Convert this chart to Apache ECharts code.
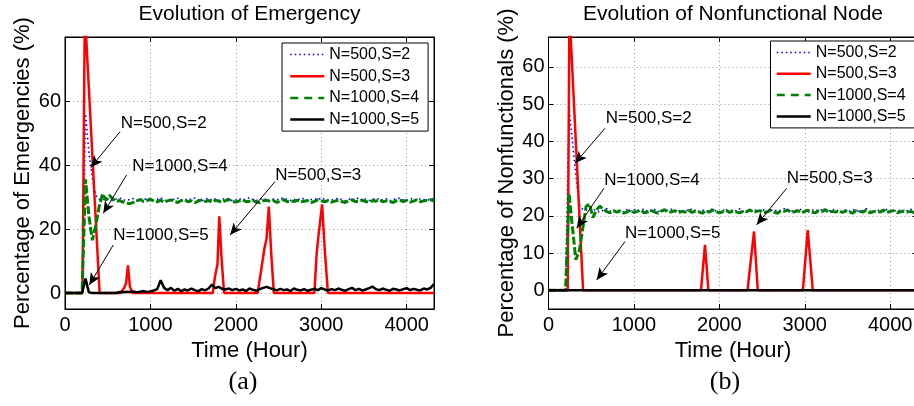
<!DOCTYPE html>
<html><head><meta charset="utf-8">
<script src="https://cdn.jsdelivr.net/npm/echarts@6/dist/echarts.min.js"></script>
<style>html,body{margin:0;padding:0;background:#fff}#c{width:914px;height:406px}</style>
</head><body><div id="c"></div>
<script>
// ---------- data ----------
const seriesNames = ['N=500,S=2', 'N=500,S=3', 'N=1000,S=4', 'N=1000,S=5'];
const xTicks = [0, 1000, 2000, 3000, 4000];
const yTicksA = [0, 20, 40, 60];
const yTicksB = [0, 10, 20, 30, 40, 50, 60];

const hours = [0,40,80,120,160,200,240,280,320,360,400,440,480,520,560,600,640,680,720,760,
  800,840,880,920,960,1000,1040,1080,1120,1160,1200,1240,1280,1320,1360,1400,1440,1480,1520,1560,
  1600,1640,1680,1720,1760,1800,1840,1880,1920,1960,2000,2040,2080,2120,2160,2200,2240,2280,2320,2360,
  2400,2440,2480,2520,2560,2600,2640,2680,2720,2760,2800,2840,2880,2920,2960,3000,3040,3080,3120,3160,
  3200,3240,3280,3320,3360,3400,3440,3480,3520,3560,3600,3640,3680,3720,3760,3800,3840,3880,3920,3960,
  4000,4040,4080,4120,4160,4200,4240,4280,4320];

// (a) Emergency
const emgS2 = [0,0,0,0,0,0,56,44,36,30.5,29.3,
  29.0,29.6,29.2,28.8,29.4,29.7,29.1,28.9,29.3,29.5,
  28.8,29.2,29.6,29.0,29.4,28.9,29.3,29.8,29.1,28.7,
  29.4,29.2,29.6,28.9,29.3,29.0,29.5,29.7,29.1,28.8,
  29.3,29.6,29.0,29.4,28.9,29.2,29.7,29.3,28.8,29.1,
  29.5,29.0,29.4,29.8,29.2,28.9,29.3,29.6,29.0,28.8,
  29.4,29.1,29.5,29.7,29.2,28.9,29.3,29.0,29.6,29.4,
  28.8,29.2,29.5,29.1,29.7,29.3,28.9,29.0,29.4,29.6,
  29.2,28.8,29.3,29.5,29.1,29.8,29.0,29.4,28.9,29.2,
  29.6,29.3,29.0,29.5,28.8,29.2,29.4,29.7,29.1,28.9,
  29.3,29.6,29.0,29.4,29.2,28.9,29.5,29.3];
const emgS3Hours = [0,205,232,405,650,690,715,737,760,790,1730,1755,1785,1806,1830,1862,
  2255,2290,2335,2360,2386,2415,2445,2920,2945,2968,3010,3040,3078,4320];
const emgS3 = [0,0,88,0,0,1.5,3,8.6,2,0,0,5,9,24,12,0,
  0,6,14,17,27,12,0,0,12,18,27.7,14,0,0];
const emgS4 = [0,0,0,0,0,0,35.5,24,16.5,21,27,31,29.0,30.5,29.4,28.6,
  28.9,28.4,28.1,27.9,28.3,28.8,29.2,28.6,28.9,29.3,
  28.7,28.5,29.0,28.4,28.8,29.1,28.6,28.3,28.9,29.2,
  28.5,28.8,28.2,28.7,29.1,28.6,28.9,28.4,29.0,28.7,
  28.3,28.9,29.2,28.6,28.4,28.8,29.1,28.5,28.7,29.0,
  28.4,28.2,28.8,29.0,28.6,28.9,28.3,28.7,29.2,28.5,
  28.8,28.6,29.0,28.4,28.7,28.9,28.3,28.6,29.1,28.8,
  28.5,28.9,28.4,28.7,29.0,28.6,28.3,28.8,29.1,28.5,
  28.7,29.0,28.6,28.4,28.9,28.7,29.2,28.5,28.8,28.6,
  28.3,28.8,29.0,28.6,28.9,28.4,28.7,29.1,28.5,28.8,
  28.9,29.2,28.7];
const emgS5 = [0,0,0,0,0,0,4.5,0.2,0,0,0,0,0,0,0,0,
  0.3,0.2,0.4,0.3,0.5,0.2,0.4,0.6,0.3,0.5,0.8,1.2,4.0,1.6,
  0.9,1.6,0.7,1.3,0.6,1.1,0.8,1.4,0.9,0.5,
  1.2,0.8,1.4,2.6,1.5,1.9,1.3,1.1,1.4,0.9,
  1.3,0.8,1.1,0.6,1.4,1.0,0.7,1.2,1.6,1.9,
  1.5,1.2,0.8,1.3,0.9,1.1,0.6,1.4,1.0,0.8,
  1.2,0.7,1.0,1.3,0.9,1.5,1.1,0.8,1.2,0.9,
  1.4,1.0,0.7,1.2,1.6,0.9,1.3,0.8,1.1,1.5,
  2.0,1.2,0.9,1.4,1.0,0.7,1.3,1.1,0.8,1.2,
  1.5,0.9,1.3,1.0,0.8,1.4,1.1,1.6,2.8];

// (b) Nonfunctional node
const nfS2 = [0,0,0,0,0,0,49,40,31,23,21.8,
  21.6,21.2,21.8,21.4,21.0,21.5,21.9,21.3,21.1,21.6,
  21.4,21.0,21.7,21.3,21.8,21.2,21.5,21.9,21.1,21.4,
  21.7,21.3,21.0,21.6,21.4,21.8,21.2,21.5,21.1,21.7,
  21.3,21.9,21.4,21.0,21.6,21.2,21.5,21.8,21.3,21.1,
  21.6,21.4,21.0,21.7,21.3,21.9,21.2,21.5,21.4,21.1,
  21.8,21.3,21.6,21.0,21.4,21.7,21.2,21.5,21.9,21.3,
  21.1,21.6,21.4,21.8,21.2,21.0,21.5,21.7,21.3,21.6,
  21.4,21.1,21.8,21.3,21.5,21.0,21.6,21.2,21.7,21.4,
  21.2,21.5,21.9,21.3,21.0,21.6,21.4,21.1,21.7,21.3,
  21.5,21.2,21.6,21.0,21.4,21.8,21.3,21.5];
const nfS3Hours = [0,225,245,405,1785,1832,1872,2330,2406,2450,2978,3035,3094,4320];
const nfS3 = [0,0,75,0,0,12.2,0,0,15.8,0,0,16.2,0,0];
const nfS4 = [0,0,0,0,0,0,26,17,8.2,10.5,16.5,22.5,23.2,19.5,21.5,22.6,
  21.8,21.2,20.8,21.4,21.0,21.3,20.7,21.1,21.5,20.9,
  21.2,21.6,20.8,21.0,21.4,21.1,20.7,21.3,21.7,20.9,
  21.1,21.4,20.8,21.2,21.0,21.5,20.9,21.3,21.1,20.7,
  21.4,21.0,21.6,21.2,20.8,21.1,21.5,20.9,21.3,21.0,
  20.8,21.3,21.1,21.6,20.9,21.2,21.4,20.8,21.1,21.5,
  21.0,20.7,21.3,21.2,21.6,20.9,21.1,21.4,20.8,21.2,
  21.5,21.0,20.8,21.3,21.1,21.7,20.9,21.2,21.0,21.4,
  20.9,21.3,21.1,20.7,21.4,21.2,21.0,21.5,20.8,21.1,
  21.3,21.0,21.6,20.9,21.2,21.4,20.8,21.1,21.3,21.0,
  21.2,20.9,21.3];
const nfS5Hours = [0, 4320];
const nfS5 = [0, 0];

// annotations (data coordinates): [text, t, v] and arrows [fromT, fromV, toT, toV]
const notesA = [['N=500,S=2', 652, 53.0], ['N=1000,S=4', 788, 39.5], ['N=500,S=3', 2462, 36.9], ['N=1000,S=5', 565, 18.1]];
const arrowsA = [[644, 50.4, 301, 39.2], [722, 36.9, 448, 24.9], [2458, 34.8, 1932, 18.1], [565, 15.0, 284, 2.5]];
const notesB = [['N=500,S=2', 670, 46.2], ['N=1000,S=4', 653, 29.6], ['N=500,S=3', 2789, 30.1], ['N=1000,S=5', 896, 15.3]];
const arrowsB = [[661, 43.5, 310, 34.1], [650, 27.4, 330, 16.7], [2789, 27.4, 2437, 17.6], [896, 13.1, 564, 2.8]];

// ---------- styling ----------
const FONT = "'Liberation Sans', Arial, Helvetica, sans-serif";
const colors = ['#0000ff', '#ff0000', '#008000', '#000000'];
const dashes = [[1.5, 3], 'solid', [8, 2.5], 'solid'];
const legendDashes = [[1.5, 3], 'solid', [8, 6], 'solid'];
const widths = [1.6, 2.5, 3, 2.5];

function pairs(t, v) { return t.map((x, i) => [x, v[i]]); }
const plainNum = v => String(v);

function xAxisDef(gi, pos) {
  const main = pos === 'bottom';
  return {
    type: 'value', gridIndex: gi, position: pos, min: 0, max: 4320,
    axisLine: { show: true, onZero: false, lineStyle: { color: '#000', width: 1 } },
    axisTick: { show: true, inside: true, length: 5, customValues: xTicks, lineStyle: { color: '#000' } },
    axisLabel: { show: main, customValues: xTicks, formatter: plainNum, margin: 6, color: '#000', fontSize: 20, fontFamily: FONT },
    splitLine: { show: main, lineStyle: { color: '#9a9a9a', type: [1, 3], width: 1 } },
    name: main ? 'Time (Hour)' : '', nameLocation: 'middle', nameGap: 23,
    nameTextStyle: { fontSize: 22, color: '#000', fontFamily: FONT }
  };
}
function yAxisDef(gi, pos, min, max, ticks, name) {
  const main = pos === 'left';
  return {
    type: 'value', gridIndex: gi, position: pos, min, max,
    axisLine: { show: true, onZero: false, lineStyle: { color: '#000', width: 1 } },
    axisTick: { show: true, inside: true, length: 5, customValues: ticks, lineStyle: { color: '#000' } },
    axisLabel: { show: main, customValues: ticks, formatter: plainNum, margin: 4, color: '#000', fontSize: 20, fontFamily: FONT },
    splitLine: { show: main, lineStyle: { color: '#9a9a9a', type: [1, 3], width: 1 } },
    name: main ? name : '', nameLocation: 'middle', nameGap: 31,
    nameTextStyle: { fontSize: 22, color: '#000', fontFamily: FONT }
  };
}
function lineSeries(idx, data, gi, extra) {
  return Object.assign({
    type: 'line', name: seriesNames[idx], xAxisIndex: gi * 2, yAxisIndex: gi * 2, data,
    symbol: 'none', showSymbol: false, smooth: false, animation: false, clip: true,
    lineStyle: { color: colors[idx], width: widths[idx], type: dashes[idx] },
    itemStyle: { color: colors[idx] }, emphasis: { disabled: true }, z: 2 + idx
  }, extra || {});
}
function annot(notes, arrows) {
  return {
    markLine: {
      silent: true, animation: false, symbol: ['none', 'arrow'], symbolSize: [8, 12], precision: 2,
      lineStyle: { color: '#000', width: 1, type: 'solid' }, label: { show: false },
      emphasis: { disabled: true },
      data: arrows.map(a => [{ coord: [a[0], a[1]] }, { coord: [a[2], a[3]] }])
    },
    markPoint: {
      silent: true, animation: false, symbol: 'circle', symbolSize: 0,
      itemStyle: { color: 'rgba(0,0,0,0)' },
      data: notes.map(n => ({ coord: [n[1], n[2]], value: n[0],
        label: { show: true, formatter: n[0], position: 'right', distance: 0,
          fontSize: 17, color: '#000', fontFamily: FONT } }))
    }
  };
}
function legendDef(left, top, pad, gap) {
  return {
    data: seriesNames.map((n, i) => ({ name: n, lineStyle: { type: legendDashes[i], width: Math.min(widths[i], 2.5) } })),
    orient: 'vertical', left, top, padding: pad,
    itemWidth: 34, itemHeight: 17, itemGap: gap, selectedMode: false,
    backgroundColor: '#fff', borderColor: '#000', borderWidth: 1, borderRadius: 0,
    itemStyle: { opacity: 0, color: 'rgba(0,0,0,0)', borderWidth: 0 },
    textStyle: { fontSize: 16, color: '#000', fontFamily: FONT, lineHeight: 17 }
  };
}

const grids = [
  { left: 65, top: 37, width: 369, height: 272 },
  { left: 548.5, top: 37, width: 369, height: 272 }
];

const option = {
  animation: false,
  backgroundColor: '#fff',
  grid: grids.map(g => Object.assign({ show: true, borderColor: '#000', borderWidth: 1,
    backgroundColor: '#fff', outerBoundsMode: 'none', containLabel: false }, g)),
  xAxis: [xAxisDef(0, 'bottom'), xAxisDef(0, 'top'), xAxisDef(1, 'bottom'), xAxisDef(1, 'top')],
  yAxis: [
    yAxisDef(0, 'left', -5, 80, yTicksA, 'Percentage of Emergencies (%)'),
    yAxisDef(0, 'right', -5, 80, yTicksA, ''),
    yAxisDef(1, 'left', -5, 68, yTicksB, 'Percentage of Nonfunctionals (%)'),
    yAxisDef(1, 'right', -5, 68, yTicksB, '')
  ],
  legend: [legendDef(282, 43, [3, 9, 3, 7], 4.7), legendDef(770.5, 41, [3, 9, 3, 5], 4.3)],
  series: [
    lineSeries(0, pairs(hours, emgS2), 0),
    lineSeries(1, pairs(emgS3Hours, emgS3), 0),
    lineSeries(2, pairs(hours, emgS4), 0),
    lineSeries(3, pairs(hours, emgS5), 0, annot(notesA, arrowsA)),
    lineSeries(0, pairs(hours, nfS2), 1),
    lineSeries(1, pairs(nfS3Hours, nfS3), 1),
    lineSeries(2, pairs(hours, nfS4), 1),
    lineSeries(3, pairs(nfS5Hours, nfS5), 1, annot(notesB, arrowsB))
  ],
  graphic: [
    { type: 'text', x: 249.5, y: 14, style: { text: 'Evolution of Emergency', align: 'center', verticalAlign: 'middle', fontSize: 21, fontFamily: FONT, fill: '#000' } },
    { type: 'text', x: 733, y: 14, style: { text: 'Evolution of Nonfunctional Node', align: 'center', verticalAlign: 'middle', fontSize: 21, fontFamily: FONT, fill: '#000' } },
    { type: 'text', x: 243, y: 382, style: { text: '(a)', align: 'center', verticalAlign: 'middle', fontSize: 26, fontFamily: "'Liberation Serif', 'Times New Roman', serif", fill: '#000' } },
    { type: 'text', x: 725, y: 382, style: { text: '(b)', align: 'center', verticalAlign: 'middle', fontSize: 26, fontFamily: "'Liberation Serif', 'Times New Roman', serif", fill: '#000' } }
  ]
};

const chart = echarts.init(document.getElementById('c'), null, { renderer: 'canvas' });
chart.setOption(option);
</script>
</body></html>
